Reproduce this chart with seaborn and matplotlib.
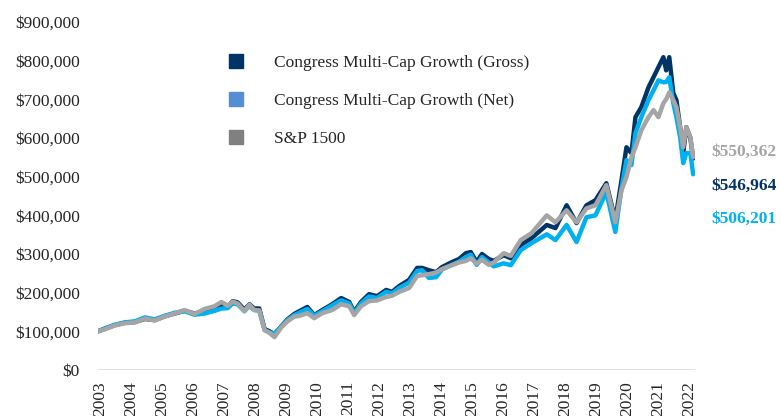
import pandas as pd
import seaborn as sns
import matplotlib.pyplot as plt
from matplotlib.lines import Line2D

# Growth of $100,000 (in $ thousands)
dates = [2002.94, 2003.19, 2003.48, 2003.80, 2004.13, 2004.45, 2004.77, 2005.09, 2005.41, 2005.73,
         2006.05, 2006.38, 2006.70, 2006.92, 2007.12, 2007.28, 2007.44, 2007.66, 2007.82, 2007.98,
         2008.14, 2008.31, 2008.47, 2008.63, 2008.85, 2009.05, 2009.27, 2009.43, 2009.69, 2009.91,
         2010.17, 2010.49, 2010.78, 2011.04, 2011.20, 2011.42, 2011.68, 2011.94, 2012.23, 2012.42,
         2012.65, 2012.97, 2013.23, 2013.39, 2013.61, 2013.84, 2014.03, 2014.35, 2014.58, 2014.80,
         2014.96, 2015.15, 2015.32, 2015.54, 2015.70, 2016.02, 2016.25, 2016.57, 2016.92, 2017.41,
         2017.69, 2018.05, 2018.37, 2018.69, 2018.98, 2019.33, 2019.62, 2019.82, 2019.98, 2020.14,
         2020.27, 2020.46, 2020.69, 2020.85, 2021.01, 2021.17, 2021.26, 2021.36, 2021.49, 2021.59,
         2021.71, 2021.81, 2021.91, 2022.04, 2022.13]

gross = [100, 108, 116, 122, 124, 132, 129, 139, 146, 153,
         146, 152, 158, 165, 164, 178, 175, 156, 170, 159,
         159, 106, 100, 92, 113, 131, 145, 152, 163, 142,
         155, 170, 186, 176, 150, 176, 196, 191, 207, 202,
         217, 233, 264, 264, 258, 253, 266, 279, 287, 302,
         305, 279, 300, 287, 282, 297, 289, 323, 341, 375,
         367, 426, 380, 426, 439, 483, 388, 491, 576, 561,
         654, 680, 731, 757, 783, 809, 775, 809, 716, 698,
         628, 561, 628, 600, 546.964]

net = [100, 108, 117, 123, 126, 136, 131, 140, 148, 152,
       143, 146, 153, 159, 160, 172, 170, 152, 166, 155,
       154, 104, 97, 95, 112, 129, 142, 148, 158, 140,
       152, 167, 180, 172, 147, 172, 190, 186, 202, 198,
       212, 226, 256, 258, 238, 240, 260, 272, 280, 292,
       298, 272, 292, 278, 268, 276, 271, 310, 328, 351,
       336, 375, 331, 395, 400, 460, 357, 470, 543, 530,
       612, 654, 698, 723, 749, 744, 745, 757, 690, 654,
       602, 535, 561, 561, 506.201]

sp1500 = [100, 106, 115, 121, 123, 133, 128, 138, 146, 155,
          145, 158, 165, 176, 166, 177, 172, 152, 169, 155,
          154, 103, 96, 85, 110, 126, 138, 140, 147, 134,
          147, 155, 170, 165, 142, 165, 178, 180, 189, 192,
          202, 212, 243, 245, 248, 252, 261, 271, 278, 282,
          289, 275, 285, 272, 278, 302, 295, 336, 354, 400,
          382, 413, 382, 418, 426, 478, 382, 465, 499, 550,
          576, 620, 654, 672, 654, 690, 700, 718, 698, 680,
          628, 576, 628, 602, 550.362]

series = ["Congress Multi-Cap Growth (Gross)", "Congress Multi-Cap Growth (Net)", "S&P 1500"]
line_colors = ["#003366", "#00B0F0", "#A5A5A5"]
legend_colors = ["#003366", "#558ED5", "#808080"]
end_labels = ["$546,964", "$506,201", "$550,362"]
end_label_y = [475000, 390000, 563000]
years = list(range(2003, 2023))

df = pd.DataFrame({"date": dates * 3,
                   "value": [v * 1000 for v in gross + net + sp1500],
                   "series": [s for s in series for _ in dates]})

sns.set_style("white")
plt.rcParams["font.family"] = ["Liberation Serif", "DejaVu Serif"]

fig = plt.figure(figsize=(7.81, 4.16), dpi=100)
ax = fig.add_axes([0.1255, 0.1106, 0.764, 0.8365])

sns.lineplot(data=df, x="date", y="value", hue="series", hue_order=series,
             palette=dict(zip(series, line_colors)), linewidth=3.2, legend=False, ax=ax)

ax.set_xlim(2002.94, 2022.18)
ax.set_ylim(0, 900000)
ax.set_yticks(range(0, 900001, 100000))
ax.set_yticklabels([f"${v:,.0f}" for v in range(0, 900001, 100000)], fontsize=12.5, color="#262626")
ax.set_xticks(years)
ax.set_xticklabels([str(y) for y in years], rotation=90, fontsize=12.5, color="#262626")
ax.tick_params(axis="y", length=0, pad=13)
ax.tick_params(axis="x", length=0, pad=8)
ax.set_xlabel("")
ax.set_ylabel("")
for side in ["top", "right", "left", "bottom"]:
    ax.spines[side].set_visible(False)
ax.axhline(0, color="#D9D9D9", linewidth=1.8, zorder=0)

handles = [Line2D([], [], linestyle="none", marker="s", markersize=9.5,
                  markerfacecolor=c, markeredgecolor=c) for c in legend_colors]
fig.legend(handles, series, loc="upper left", bbox_to_anchor=(0.28, 0.869),
           frameon=False, fontsize=12.5, labelspacing=1.26, handletextpad=1.2,
           borderaxespad=0, borderpad=0)

for lab, y, c in zip(end_labels, end_label_y, line_colors):
    ax.text(2022.72, y, lab, color=c, fontsize=12.5, fontweight="bold",
            va="center", ha="left", clip_on=False)

fig.savefig("out.png", dpi=100)
